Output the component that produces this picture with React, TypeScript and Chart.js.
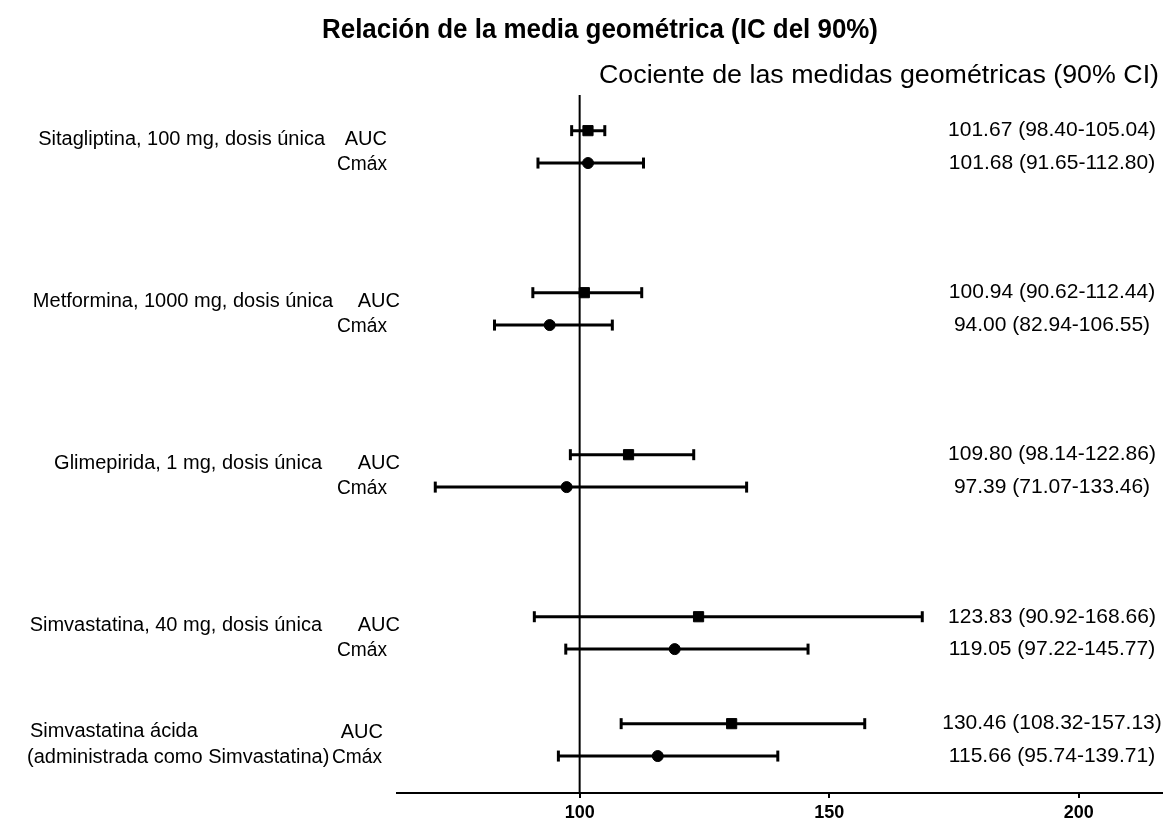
import React, { useEffect, useRef } from 'react';
import { Chart, registerables } from 'chart.js';

Chart.register(...registerables);

// ---- data ----
const groupLabels = [
  ['Sitagliptina, 100 mg, dosis única'],
  ['Metformina, 1000 mg, dosis única'],
  ['Glimepirida, 1 mg, dosis única'],
  ['Simvastatina, 40 mg, dosis única'],
  ['Simvastatina ácida', '(administrada como Simvastatina)'],
];
const aucRatio = [101.67, 100.94, 109.8, 123.83, 130.46];
const aucLow = [98.4, 90.62, 98.14, 90.92, 108.32];
const aucHigh = [105.04, 112.44, 122.86, 168.66, 157.13];
const cmaxRatio = [101.68, 94.0, 97.39, 119.05, 115.66];
const cmaxLow = [91.65, 82.94, 71.07, 97.22, 95.74];
const cmaxHigh = [112.8, 106.55, 133.46, 145.77, 139.71];
const xTicks = [100, 150, 200];
const refValue = 100;
const titleText = 'Relación de la media geométrica (IC del 90%)';
const subtitleText = 'Cociente de las medidas geométricas (90% CI)';
const aucLabel = 'AUC';
const cmaxLabel = 'Cmáx';

// ---- layout (row positions on the hidden y scale, text placement) ----
const groupPos = [1.1, 6.1, 11.1, 16.1, 19.4];
const yMax = 21.54;
const xMin = 63.4;
const xMax = 216.6;
const groupLabelRight = [325, 333, 322, 322, 0];
const aucLabelRight = [387, 400, 400, 400, 383];
const cmaxLabelRight = [387, 387, 387, 387, 382];

const FONT = '"Liberation Sans", Arial, Helvetica, sans-serif';

const fmt = (v: number) => v.toFixed(2);

const textPlugin = {
  id: 'forestText',
  afterDraw(chart: any) {
    const ctx = chart.ctx as CanvasRenderingContext2D;
    const ys = chart.scales.y;
    ctx.save();
    ctx.fillStyle = '#000';
    ctx.textBaseline = 'middle';

    // title
    ctx.font = `bold 27px ${FONT}`;
    ctx.textAlign = 'center';
    ctx.fillText(titleText, 600, 31, 556);
    // subtitle
    ctx.font = `25px ${FONT}`;
    const w = ctx.measureText(subtitleText).width;
    const sx = 560 / w;
    ctx.save();
    ctx.translate(879, 76);
    ctx.scale(sx, 1);
    ctx.fillText(subtitleText, 0, 0);
    ctx.restore();

    groupLabels.forEach((lines, i) => {
      const ya = ys.getPixelForValue(groupPos[i]);
      const yc = ys.getPixelForValue(groupPos[i] + 1);
      // right-side values
      ctx.font = `21px ${FONT}`;
      ctx.textAlign = 'center';
      ctx.fillText(`${fmt(aucRatio[i])} (${fmt(aucLow[i])}-${fmt(aucHigh[i])})`, 1052, ya);
      ctx.fillText(`${fmt(cmaxRatio[i])} (${fmt(cmaxLow[i])}-${fmt(cmaxHigh[i])})`, 1052, yc);
      // AUC / Cmáx labels
      ctx.font = `20px ${FONT}`;
      ctx.textAlign = 'right';
      ctx.fillText(aucLabel, aucLabelRight[i], ya + 9);
      ctx.fillText(cmaxLabel, cmaxLabelRight[i], yc + 1, 50);
      // group labels
      if (lines.length === 1) {
        ctx.textAlign = 'right';
        ctx.fillText(lines[0], groupLabelRight[i], ya + 9);
      } else {
        ctx.textAlign = 'left';
        ctx.fillText(lines[0], 30, ya + 8);
        ctx.fillText(lines[1], 27, yc + 1);
      }
    });
    ctx.restore();
  },
};

export default function App() {
  const ref = useRef<HTMLCanvasElement>(null);

  useEffect(() => {
    document.body.style.margin = '0';
    const canvas = ref.current!;
    const datasets: any[] = [];

    datasets.push({
      data: [
        { x: refValue, y: 0 },
        { x: refValue, y: yMax },
      ],
      showLine: true,
      borderColor: '#000',
      borderWidth: 2,
      pointRadius: 0,
      clip: false,
    });

    const ciDataset = (lo: number, hi: number, y: number) => ({
      data: [
        { x: lo, y },
        { x: hi, y },
      ],
      showLine: true,
      borderColor: '#000',
      borderWidth: 3,
      pointStyle: 'line',
      rotation: 90,
      pointRadius: 5.5,
      pointBorderWidth: 3,
      pointBorderColor: '#000',
      pointBackgroundColor: '#000',
      clip: false,
    });

    groupPos.forEach((p, i) => {
      datasets.push(ciDataset(aucLow[i], aucHigh[i], p));
      datasets.push(ciDataset(cmaxLow[i], cmaxHigh[i], p + 1));
    });

    datasets.push({
      data: aucRatio.map((v, i) => ({ x: v, y: groupPos[i] })),
      pointStyle: 'rect',
      pointRadius: 7.2,
      borderWidth: 1,
      backgroundColor: '#000',
      borderColor: '#000',
      clip: false,
    });
    datasets.push({
      data: cmaxRatio.map((v, i) => ({ x: v, y: groupPos[i] + 1 })),
      pointStyle: 'circle',
      pointRadius: 5.5,
      borderWidth: 1,
      backgroundColor: '#000',
      borderColor: '#000',
      clip: false,
    });

    const chart = new Chart(canvas, {
      type: 'scatter',
      data: { datasets },
      options: {
        responsive: false,
        animation: false,
        events: [],
        layout: { padding: { left: 397, right: 7, top: 95, bottom: 0 } },
        plugins: {
          legend: { display: false },
          tooltip: { enabled: false },
          title: { display: false },
        },
        scales: {
          x: {
            type: 'linear',
            min: xMin,
            max: xMax,
            afterBuildTicks: (s: any) => {
              s.ticks = xTicks.map((v) => ({ value: v }));
            },
            afterFit: (s: any) => {
              s.height = 28;
            },
            grid: {
              drawOnChartArea: false,
              drawTicks: true,
              tickLength: 5,
              color: '#000',
              lineWidth: 2,
            },
            border: { display: true, color: '#000', width: 2 },
            ticks: {
              color: '#000',
              padding: 4,
              autoSkip: false,
              maxRotation: 0,
              font: { family: FONT, size: 18, weight: 'bold' },
            },
          },
          y: {
            type: 'linear',
            min: 0,
            max: yMax,
            reverse: true,
            display: false,
          },
        },
      } as any,
      plugins: [textPlugin],
    });

    return () => chart.destroy();
  }, []);

  return (
    <div style={{ width: 1170, height: 821, background: '#fff' }}>
      <canvas ref={ref} width={1170} height={821} style={{ display: 'block' }} />
    </div>
  );
}
